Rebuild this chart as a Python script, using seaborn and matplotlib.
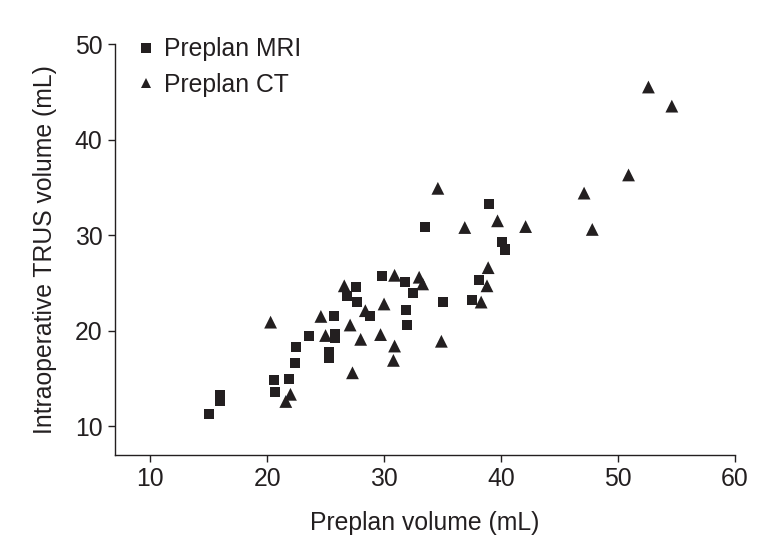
import numpy as np
import pandas as pd
import matplotlib
matplotlib.use("Agg")
import matplotlib.pyplot as plt
import seaborn as sns

mri_x = [15.0, 16.0, 16.0, 20.6, 20.7, 21.9, 22.4, 22.5, 23.6, 25.3, 25.3, 25.8, 25.8, 25.7, 26.8,
         27.6, 27.7, 28.8, 29.8, 31.8, 31.85, 32.0, 32.5, 33.5, 35.0, 37.5, 38.1, 39.0, 40.1, 40.3]
mri_y = [11.3, 13.3, 12.6, 14.8, 13.6, 14.9, 16.6, 18.3, 19.5, 17.8, 17.2, 19.7, 19.2, 21.5, 23.6,
         24.6, 23.0, 21.5, 25.7, 25.1, 22.2, 20.6, 24.0, 30.9, 23.0, 23.2, 25.3, 33.3, 29.3, 28.5]
ct_x = [20.3, 21.6, 22.0, 24.6, 25.0, 26.6, 27.1, 27.3, 28.0, 28.4, 29.7, 30.0, 30.8, 30.9, 30.9,
        33.0, 33.3, 34.6, 34.9, 36.9, 38.3, 38.8, 38.9, 39.7, 42.1, 47.1, 47.8, 50.9, 52.6, 54.6]
ct_y = [20.9, 12.6, 13.35, 21.5, 19.5, 24.7, 20.6, 15.6, 19.1, 22.1, 19.6, 22.8, 16.9, 18.4, 25.8,
        25.6, 24.9, 34.9, 18.9, 30.8, 23.0, 24.7, 26.6, 31.5, 30.9, 34.4, 30.6, 36.3, 45.5, 43.5]
groups = ["Preplan MRI", "Preplan CT"]
x_ticks = [10, 20, 30, 40, 50, 60]
y_ticks = [10, 20, 30, 40, 50]

df = pd.DataFrame({
    "x": mri_x + ct_x,
    "y": mri_y + ct_y,
    "group": [groups[0]] * len(mri_x) + [groups[1]] * len(ct_x),
})

sns.set_style("ticks")
plt.rcParams["font.family"] = ["Liberation Sans", "DejaVu Sans"]
col = "#231f20"
fs = 17.8

fig = plt.figure(figsize=(7.76, 5.53), dpi=100)
ax = fig.add_axes([115 / 776, 1 - 455 / 553, (735 - 115) / 776, (455 - 44) / 553])

sns.scatterplot(data=df, x="x", y="y", hue="group", style="group", size="group",
                markers={groups[0]: "s", groups[1]: "^"},
                palette={groups[0]: col, groups[1]: col},
                sizes={groups[0]: 52, groups[1]: 85},
                linewidth=0, ax=ax, legend=True)

ax.set_xlim(7, 60)
ax.set_ylim(7, 50)
ax.set_xticks(x_ticks)
ax.set_yticks(y_ticks)
ax.tick_params(axis="both", labelsize=fs, length=5, width=1, colors=col, direction="out", pad=4)
for side in ["top", "right"]:
    ax.spines[side].set_visible(False)
for side in ["left", "bottom"]:
    ax.spines[side].set_linewidth(1)
    ax.spines[side].set_color(col)
ax.set_xlabel("Preplan volume (mL)", fontsize=fs, color=col, labelpad=14)
ax.set_ylabel("Intraoperative TRUS volume (mL)", fontsize=fs, color=col, labelpad=13)

handles, labels = ax.get_legend_handles_labels()
for h in handles:
    try:
        h.set_markersize(7)
    except Exception:
        pass
leg = ax.legend(handles, labels, loc="upper left", bbox_to_anchor=(0.01, 1.04),
                frameon=False, fontsize=fs, handletextpad=0.15, labelspacing=0.45,
                handlelength=1.2, borderaxespad=0)
for t in leg.get_texts():
    t.set_color(col)

fig.savefig("out.png", dpi=100)
